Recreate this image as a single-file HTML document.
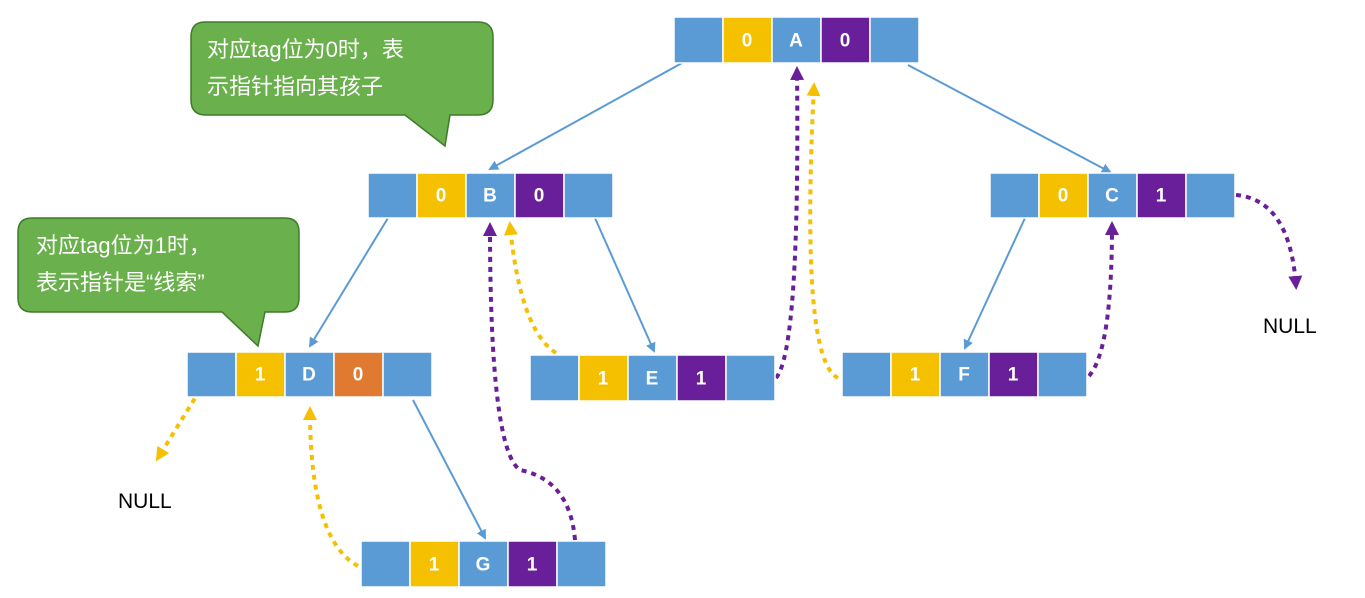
<!DOCTYPE html>
<html><head><meta charset="utf-8"><style>
html,body{margin:0;padding:0;background:#fff;}
svg{display:block;}
text{font-family:"Liberation Sans","Noto Sans CJK SC",sans-serif;}
.c{font-size:19px;font-weight:bold;fill:#fff;text-anchor:middle;dominant-baseline:central;}
.call{font-size:22px;fill:#fff;}
</style></head><body>
<svg width="1365" height="598" viewBox="0 0 1365 598">
<defs>
<marker id="ab" markerWidth="10" markerHeight="10" refX="8" refY="5" orient="auto" markerUnits="userSpaceOnUse"><path d="M0,0 L10,5 L0,10 z" fill="#5b9bd5"/></marker>
<marker id="ay" markerWidth="14" markerHeight="14" refX="10" refY="7" orient="auto" markerUnits="userSpaceOnUse"><path d="M0,0 L14,7 L0,14 z" fill="#f5c000"/></marker>
<marker id="ap" markerWidth="14" markerHeight="14" refX="10" refY="7" orient="auto" markerUnits="userSpaceOnUse"><path d="M0,0 L14,7 L0,14 z" fill="#6a1f9a"/></marker>
</defs>
<!-- callouts -->
<path d="M205,22 H478 Q493,22 493,37 V100 Q493,115 478,115 H450 L445,146 L405,115 H206 Q191,115 191,100 V37 Q191,22 205,22 Z" fill="#6ab04c" stroke="#3e7b2a" stroke-width="1.5"/>
<text class="call" x="207" y="57">对应tag位为0时，表</text>
<text class="call" x="207" y="94">示指针指向其孩子</text>
<path d="M32,218 H285 Q299,218 299,232 V298 Q299,312 285,312 H265 L258,346 L222,312 H32 Q18,312 18,298 V232 Q18,218 32,218 Z" fill="#6ab04c" stroke="#3e7b2a" stroke-width="1.5"/>
<text class="call" x="36" y="253">对应tag位为1时，</text>
<text class="call" x="36" y="290">表示指针是“线索”</text>
<!-- solid edges -->
<g stroke="#5b9bd5" stroke-width="2" fill="none" marker-end="url(#ab)">
<line x1="682" y1="63" x2="490" y2="169"/>
<line x1="908" y1="65" x2="1110" y2="172"/>
<line x1="388" y1="218" x2="310" y2="346"/>
<line x1="595" y1="218" x2="654" y2="351"/>
<line x1="1025" y1="218" x2="965" y2="348"/>
<line x1="413" y1="400" x2="485" y2="538"/>
</g>
<!-- dotted -->
<g stroke-width="4" fill="none" stroke-dasharray="5,5">
<path d="M200,390 L158,458" stroke="#f5c000" marker-end="url(#ay)"/>
<path d="M358,566 Q310,540 310,410" stroke="#f5c000" marker-end="url(#ay)"/>
<path d="M556,353 Q520,330 510,225" stroke="#f5c000" marker-end="url(#ay)"/>
<path d="M838,378 Q800,360 814,86" stroke="#f5c000" marker-end="url(#ay)"/>
<path d="M575,540 Q570,480 520,470 Q490,450 490,226" stroke="#6a1f9a" marker-end="url(#ap)"/>
<path d="M776,378 Q800,350 797,70" stroke="#6a1f9a" marker-end="url(#ap)"/>
<path d="M1089,376 Q1112,350 1112,225" stroke="#6a1f9a" marker-end="url(#ap)"/>
<path d="M1236,195 Q1290,200 1296,286" stroke="#6a1f9a" marker-end="url(#ap)"/>
</g>
<text x="1263" y="333" font-size="21" fill="#000">NULL</text>
<text x="118" y="508" font-size="21" fill="#000">NULL</text>
<!-- nodes -->
<g id="nodes" stroke="#fff" stroke-width="1.5">
<!-- A -->
<rect x="674" y="17" width="49" height="46" fill="#5b9bd5"/><rect x="723" y="17" width="49" height="46" fill="#f5c000"/><rect x="772" y="17" width="49" height="46" fill="#5b9bd5"/><rect x="821" y="17" width="49" height="46" fill="#6a1f9a"/><rect x="870" y="17" width="49" height="46" fill="#5b9bd5"/>
<!-- B -->
<rect x="368" y="173" width="49" height="45" fill="#5b9bd5"/><rect x="417" y="173" width="49" height="45" fill="#f5c000"/><rect x="466" y="173" width="49" height="45" fill="#5b9bd5"/><rect x="515" y="173" width="49" height="45" fill="#6a1f9a"/><rect x="564" y="173" width="49" height="45" fill="#5b9bd5"/>
<!-- C -->
<rect x="990" y="173" width="49" height="45" fill="#5b9bd5"/><rect x="1039" y="173" width="49" height="45" fill="#f5c000"/><rect x="1088" y="173" width="49" height="45" fill="#5b9bd5"/><rect x="1137" y="173" width="49" height="45" fill="#6a1f9a"/><rect x="1186" y="173" width="49" height="45" fill="#5b9bd5"/>
<!-- D -->
<rect x="187" y="352" width="49" height="45" fill="#5b9bd5"/><rect x="236" y="352" width="49" height="45" fill="#f5c000"/><rect x="285" y="352" width="49" height="45" fill="#5b9bd5"/><rect x="334" y="352" width="49" height="45" fill="#e07a30"/><rect x="383" y="352" width="49" height="45" fill="#5b9bd5"/>
<!-- E -->
<rect x="530" y="355" width="49" height="46" fill="#5b9bd5"/><rect x="579" y="355" width="49" height="46" fill="#f5c000"/><rect x="628" y="355" width="49" height="46" fill="#5b9bd5"/><rect x="677" y="355" width="49" height="46" fill="#6a1f9a"/><rect x="726" y="355" width="49" height="46" fill="#5b9bd5"/>
<!-- F -->
<rect x="842" y="352" width="49" height="45" fill="#5b9bd5"/><rect x="891" y="352" width="49" height="45" fill="#f5c000"/><rect x="940" y="352" width="49" height="45" fill="#5b9bd5"/><rect x="989" y="352" width="49" height="45" fill="#6a1f9a"/><rect x="1038" y="352" width="49" height="45" fill="#5b9bd5"/>
<!-- G -->
<rect x="361" y="541" width="49" height="46" fill="#5b9bd5"/><rect x="410" y="541" width="49" height="46" fill="#f5c000"/><rect x="459" y="541" width="49" height="46" fill="#5b9bd5"/><rect x="508" y="541" width="49" height="46" fill="#6a1f9a"/><rect x="557" y="541" width="49" height="46" fill="#5b9bd5"/>
</g>
<text class="c" x="747" y="41">0</text><text class="c" x="796" y="41">A</text><text class="c" x="845" y="41">0</text>
<text class="c" x="441" y="196">0</text><text class="c" x="490" y="196">B</text><text class="c" x="539" y="196">0</text>
<text class="c" x="1063" y="196">0</text><text class="c" x="1112" y="196">C</text><text class="c" x="1161" y="196">1</text>
<text class="c" x="260" y="375">1</text><text class="c" x="309" y="375">D</text><text class="c" x="358" y="375">0</text>
<text class="c" x="603" y="379">1</text><text class="c" x="652" y="379">E</text><text class="c" x="701" y="379">1</text>
<text class="c" x="915" y="375">1</text><text class="c" x="964" y="375">F</text><text class="c" x="1013" y="375">1</text>
<text class="c" x="434" y="565">1</text><text class="c" x="483" y="565">G</text><text class="c" x="532" y="565">1</text>
</svg>
</body></html>
